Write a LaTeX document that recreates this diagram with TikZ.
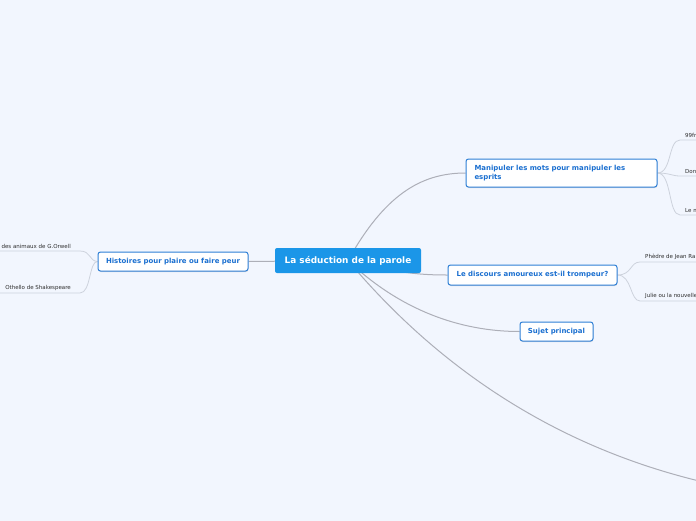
\documentclass[tikz,border=0pt]{standalone}
\usepackage{fontspec}
\setmainfont{DejaVu Sans}
\usetikzlibrary{shadows,backgrounds}
\definecolor{bg}{HTML}{F2F6FE}
\definecolor{cfill}{HTML}{1B96E8}
\definecolor{bborder}{HTML}{2E7FD6}
\definecolor{btext}{HTML}{1A6FD0}
\definecolor{mainline}{HTML}{ADAFB8}
\definecolor{leafline}{HTML}{CDD2DC}
\definecolor{ltext}{HTML}{2E2E2E}
\begin{document}
\begin{tikzpicture}[x=1pt,y=-1pt,
  central/.style={fill=cfill, rounded corners=2pt, text=white,
    font=\bfseries\fontsize{8.9}{10}\selectfont,
    minimum width=146pt, minimum height=25pt, inner sep=0pt},
  topic/.style={fill=white, draw=bborder, line width=1pt, rounded corners=2.5pt,
    text=btext, font=\bfseries\fontsize{6.95}{8.2}\selectfont, inner sep=0pt,
    drop shadow={shadow xshift=0.4pt, shadow yshift=-1pt, opacity=0.25}},
  leaf/.style={font=\fontsize{5.5}{6.5}\selectfont, text=ltext, inner xsep=0pt, inner ysep=1.8pt},
  mainconn/.style={draw=mainline, line width=1pt},
  leafconn/.style={draw=leafline, line width=0.8pt}]
\useasboundingbox (0,0) rectangle (696,520);

% nodes
\node[central] (c) at (348,260.5) {La séduction de la parole};
\node[topic, minimum width=150pt, minimum height=19pt] (h) at (173,261.5) {Histoires pour plaire ou faire peur};
\node[topic, minimum width=191pt, minimum height=28pt, text width=174pt, align=left] (m) at (561.5,173) {Manipuler les mots pour manipuler les\\esprits};
\node[topic, minimum width=169pt, minimum height=20pt] (d) at (532.5,275) {Le discours amoureux est-il trompeur?};
\node[topic, minimum width=73pt, minimum height=19pt] (s) at (556.5,331.5) {Sujet principal};

% leaves
\node[leaf, anchor=south east] (l1) at (71,251) {des animaux de G.Orwell};
\node[leaf, anchor=south east] (l2) at (71,293) {Othello de Shakespeare};
\node[leaf, anchor=south west] (r1) at (685,140) {99fr};
\node[leaf, anchor=south west] (r2) at (685,176) {Don};
\node[leaf, anchor=south west] (r3) at (685,215) {Le m};
\node[leaf, anchor=south west] (p1) at (645,262) {Phèdre de Jean Ra};
\node[leaf, anchor=south west] (p2) at (645,301) {Julie ou la nouvelle};
\coordinate (far) at (712,484);

\begin{scope}[on background layer]
\fill[bg] (-10,-10) rectangle (710,530);
% main connectors
\draw[mainconn] (c.center) -- (h.east);
\draw[mainconn] (c.center) .. controls (384,196) and (420,173) .. (m.west);
\draw[mainconn] (c.center) .. controls (400,274) and (425,275) .. (d.west);
\draw[mainconn] (c.center) .. controls (400,310) and (460,331.5) .. (s.west);
\draw[mainconn] (c.center) .. controls (440,370) and (560,450) .. (far);
% leaf connectors
\draw[leafconn] (h.west) .. controls (89,261) and (91,251) .. ([xshift=9pt]l1.south east) -- ([xshift=-80pt]l1.south east);
\draw[leafconn] (h.west) .. controls (89,261) and (91,293) .. ([xshift=9pt]l2.south east) -- ([xshift=-80pt]l2.south east);
\draw[leafconn] (m.east) .. controls (672,173) and (668,140) .. ([xshift=-5pt]r1.south west) -- ([xshift=30pt]r1.south west);
\draw[leafconn] (m.east) .. controls (670,173) and (672,176) .. ([xshift=-5pt]r2.south west) -- ([xshift=30pt]r2.south west);
\draw[leafconn] (m.east) .. controls (672,173) and (668,215) .. ([xshift=-5pt]r3.south west) -- ([xshift=30pt]r3.south west);
\draw[leafconn] (d.east) .. controls (632,275) and (630,262) .. ([xshift=-5pt]p1.south west) -- ([xshift=60pt]p1.south west);
\draw[leafconn] (d.east) .. controls (632,275) and (630,301) .. ([xshift=-5pt]p2.south west) -- ([xshift=60pt]p2.south west);
\end{scope}
\end{tikzpicture}
\end{document}
